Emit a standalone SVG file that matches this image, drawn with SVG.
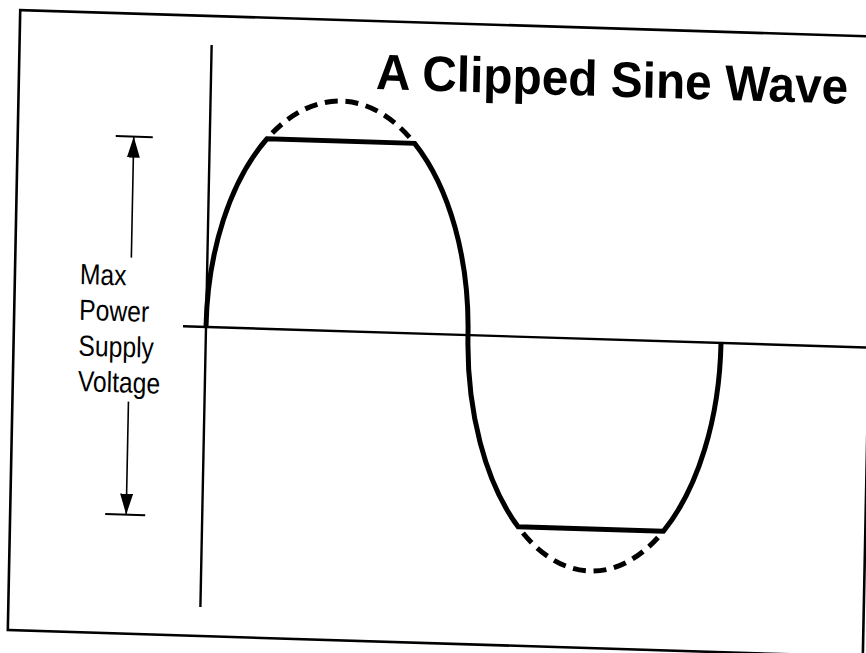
<svg xmlns="http://www.w3.org/2000/svg" width="866" height="653" viewBox="0 0 866 653">
  <style>
    .frame { fill: none; stroke: #000; stroke-width: 2.6; }
    .axis { fill: none; stroke: #000; stroke-width: 2.4; }
    .wave { fill: none; stroke: #000; stroke-width: 5; stroke-linejoin: miter; }
    .dash { fill: none; stroke: #000; stroke-width: 5; stroke-dasharray: 13 7.7; stroke-dashoffset: 13; }
    .dim { fill: none; stroke: #000; stroke-width: 1.6; }
    .tick { fill: none; stroke: #000; stroke-width: 2; }
    .label { font-family: "Liberation Sans", Arial, Helvetica, sans-serif; font-size: 29px; fill: #000; }
    .title { font-family: "Liberation Sans", Arial, Helvetica, sans-serif; font-size: 50px; font-weight: bold; fill: #000; }
  </style>
  <defs>
    <marker id="head" viewBox="0 0 21 13" refX="21" refY="6.5" markerWidth="21" markerHeight="13" markerUnits="userSpaceOnUse" orient="auto">
      <path d="M0,0 L21,6.5 L0,13 Z" fill="#000"/>
    </marker>
  </defs>
  <rect width="866" height="653" fill="#fff"/>
  <!-- whole scanned sheet, slightly skewed -->
  <g transform="matrix(1 0.031 -0.02 1 206 327)">
    <g id="frame">
      <rect class="frame" x="-192" y="-311" width="855" height="620"/>
    </g>
    <g id="axes">
      <line class="axis" x1="0" y1="-282" x2="0" y2="280"/>
      <line class="axis" x1="-23" y1="0" x2="700" y2="0"/>
    </g>
    <g id="wave">
      <path class="wave" d="M 0 0 A 131 230 0 0 1 57.2 -190 L 204.8 -190 A 131 230 0 0 1 262 0 A 126.5 232 0 0 0 315.9 190 L 461.1 190 A 126.5 232 0 0 0 515 0"/>
    </g>
    <g id="unclipped">
      <path class="dash" d="M 57.2 -190 A 131 230 0 0 1 204.8 -190"/>
      <path class="dash" d="M 315.9 190 A 126.5 232 0 0 0 461.1 190"/>
    </g>
    <g id="title">
      <text class="title" x="165" y="-243" textLength="472" lengthAdjust="spacingAndGlyphs">A Clipped Sine Wave</text>
    </g>
    <g id="label">
      <text class="label" transform="translate(-127,-39) scale(0.85,1)">Max</text>
      <text class="label" transform="translate(-127,-3.3) scale(0.85,1)">Power</text>
      <text class="label" transform="translate(-127,32.4) scale(0.85,1)">Supply</text>
      <text class="label" transform="translate(-127,68) scale(0.85,1)">Voltage</text>
    </g>
    <g id="connectors">
      <line class="tick" x1="-94" y1="-188" x2="-57" y2="-188"/>
      <line class="tick" x1="-97" y1="190" x2="-57" y2="190"/>
      <line class="dim" x1="-76" y1="-67" x2="-76" y2="-188" marker-end="url(#head)"/>
      <line class="dim" x1="-76" y1="77" x2="-76" y2="190" marker-end="url(#head)"/>
    </g>
  </g>
</svg>
